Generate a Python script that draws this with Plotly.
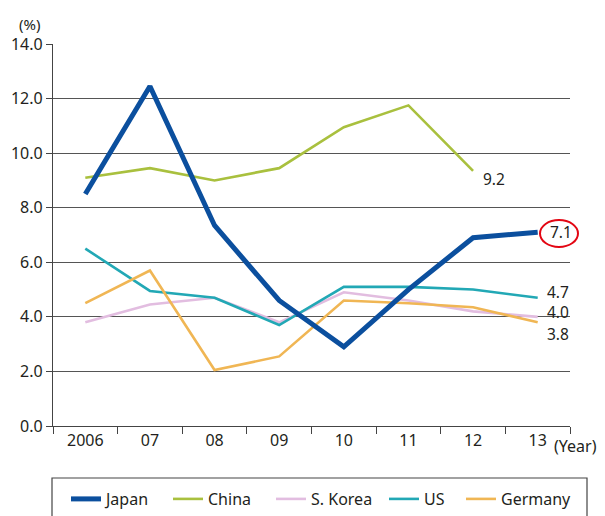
import plotly.graph_objects as go

years = ["2006", "07", "08", "09", "10", "11", "12", "13"]
japan = [8.5, 12.45, 7.35, 4.6, 2.9, 5.0, 6.9, 7.1]
china = [9.1, 9.45, 9.0, 9.45, 10.95, 11.75, 9.35, None]
korea = [3.8, 4.45, 4.7, 3.8, 4.9, 4.6, 4.2, 4.0]
us = [6.5, 4.95, 4.7, 3.7, 5.1, 5.1, 5.0, 4.7]
germany = [4.5, 5.7, 2.05, 2.55, 4.6, 4.5, 4.35, 3.8]

end_labels = {"China": "9.2", "Japan": "7.1", "US": "4.7", "S. Korea": "4.0", "Germany": "3.8"}

FONT = "Noto Sans"
TXT = "#231f20"
FS = 16

series = [
    ("Japan", japan, "#0b4f9e", 5),
    ("China", china, "#a9c03e", 2.6),
    ("S. Korea", korea, "#e2bde0", 2.6),
    ("US", us, "#22a8b5", 2.6),
    ("Germany", germany, "#f0b654", 2.6),
]
names = [s[0] for s in series]
legend_ids = ["legend", "legend2", "legend3", "legend4", "legend5"]
legend_x = [66, 168, 271, 384, 461]

fig = go.Figure()
# draw order: thin lines first, Japan on top
for name, vals, col, w in series[1:] + series[:1]:
    i = names.index(name)
    fig.add_trace(go.Scatter(x=years, y=vals, mode="lines", name=name,
                             line=dict(color=col, width=w), connectgaps=False,
                             legend=legend_ids[i]))

L, R, T, B = 53, 35, 44, 90
PW, PH = 605 - L - R, 516 - T - B


def px(xp):
    return (xp - L) / PW


def py(yp):
    return (T + PH - yp) / PH


fig.update_layout(
    width=605, height=516,
    margin=dict(l=L, r=R, t=T, b=B, autoexpand=False),
    paper_bgcolor="white", plot_bgcolor="white",
    font=dict(family=FONT, size=FS, color=TXT),
    showlegend=True,
    xaxis=dict(type="category", categoryorder="array", categoryarray=years,
               tickson="boundaries", ticks="outside", ticklen=7, tickcolor="#444",
               showline=True, linecolor="#444", linewidth=1.2, showgrid=False,
               tickfont=dict(size=FS, color=TXT), range=[-0.5, 7.5]),
    yaxis=dict(range=[0, 14], dtick=2, tickformat=".1f", ticks="outside", ticklen=6,
               tickcolor="#444", showline=True, linecolor="#444", linewidth=1.2,
               showgrid=True, gridcolor="#555", gridwidth=1.2, zeroline=False,
               tickfont=dict(size=FS, color=TXT)),
)
for lid, lx in zip(legend_ids, legend_x):
    fig.update_layout({lid: dict(orientation="h", xref="container", yref="container",
                                 x=lx / 605, xanchor="left", y=(516 - 482) / 516,
                                 yanchor="top", font=dict(size=FS, color=TXT),
                                 bgcolor="rgba(0,0,0,0)", itemwidth=30)})

# end labels
ann = [
    dict(x=6, y=9.35, text=end_labels["China"], xshift=9, yshift=-8),
    dict(x=7, y=7.1, text=end_labels["Japan"], xshift=11, yshift=0),
    dict(x=7, y=4.7, text=end_labels["US"], xshift=8, yshift=6),
    dict(x=7, y=4.0, text=end_labels["S. Korea"], xshift=8, yshift=5),
    dict(x=7, y=3.8, text=end_labels["Germany"], xshift=8, yshift=-12),
]
for a in ann:
    fig.add_annotation(x=a["x"], y=a["y"], xref="x", yref="y", text=a["text"],
                       showarrow=False, xanchor="left", yanchor="middle",
                       xshift=a["xshift"], yshift=a["yshift"], borderpad=0,
                       font=dict(size=15.5, color=TXT))

fig.add_annotation(x=px(29), y=py(24), xref="paper", yref="paper",
                   text="(%)", showarrow=False, xanchor="center", yanchor="middle",
                   font=dict(size=15, color=TXT))
fig.add_annotation(x=px(552), y=py(446), xref="paper", yref="paper", text="(Year)",
                   showarrow=False, xanchor="left", yanchor="middle",
                   font=dict(size=FS, color=TXT))

# red circle around 7.1
fig.add_shape(type="circle", xref="paper", yref="paper",
              x0=px(540), x1=px(578), y0=py(247), y1=py(220),
              line=dict(color="#e30613", width=2))

# legend frame
fig.add_shape(type="rect", xref="paper", yref="paper",
              x0=px(52), x1=px(587), y0=py(530), y1=py(478),
              line=dict(color="#444", width=1.2), fillcolor="rgba(0,0,0,0)")

fig.write_html("out.html", config={"displayModeBar": False},
               post_script="document.body.style.margin='0';")
